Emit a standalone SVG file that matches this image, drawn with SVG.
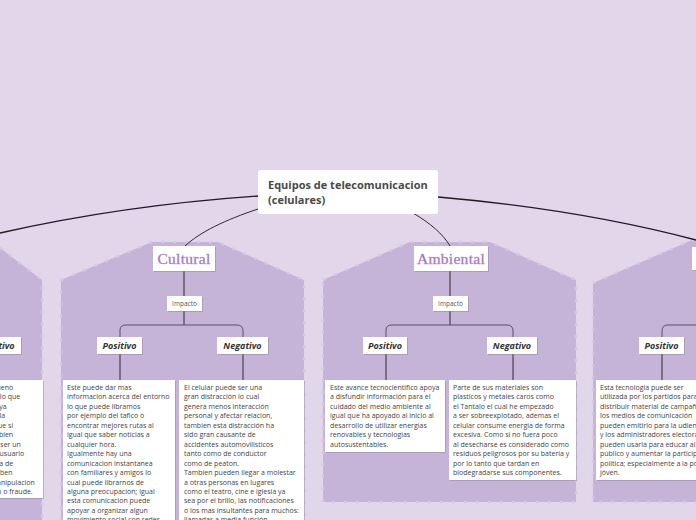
<svg xmlns="http://www.w3.org/2000/svg" width="696" height="520" viewBox="0 0 696 520">
<style>
.panel{fill:#c6b3d8;stroke:#d6c8e2;stroke-width:2.5;stroke-dasharray:3 9}
.box{fill:#fff}
.sh{fill:#8f7fa0;opacity:0.45}
.conn{fill:none;stroke:#2e2a33;stroke-width:1}
.main{fill:none;stroke:#1e1b22;stroke-width:1.3}
.br{fill:none;stroke:#5a5060;stroke-width:1}
.cat{font-family:"Liberation Serif",serif;font-size:15.5px;fill:#9c6cbc;stroke:#b995d0;stroke-width:0.4;text-anchor:middle;letter-spacing:0.3px}
.pn{font-family:"Open Sans","Noto Sans",sans-serif;font-weight:bold;font-style:italic;font-size:9px;fill:#333;text-anchor:middle}
.imp{font-family:"Open Sans","Noto Sans",sans-serif;font-size:6.5px;fill:#555;text-anchor:middle}
.body{font-family:"Open Sans","Noto Sans",sans-serif;font-size:7px;fill:#444}
.title{font-family:"Open Sans","Noto Sans",sans-serif;font-weight:bold;font-size:11px;fill:#4a4a4a}
</style>
<rect width="696" height="520" fill="#e1d6ea"/>

<g id="panels">
<polygon class="panel" points="-120,240 -40,240 0,248 42,280 42,540 -120,540"/>
<polygon class="panel" points="61,280 152,242 218,242 304,280 304,540 61,540"/>
<polygon class="panel" points="323,280 410,242 490,242 576,280 576,502 323,502"/>
<polygon class="panel" points="593,283 692,240 780,240 780,502 593,502"/>
</g>

<g id="connectors">
<path class="main" d="M258,196 C170,202 80,215 0,233"/>
<path class="main" d="M438,197 C530,205 620,220 696,240"/>
<path class="conn" d="M258,209 C225,220 200,232 185,246"/>
<path class="conn" d="M413,213 C430,223 443,234 450,246"/>
<path class="conn" d="M184,271 V296 M184,311 V325"/>
<path class="br" d="M120,337 V330 Q120,325 126,325 H237 Q243,325 243,331 V337"/>
<path class="conn" d="M120,354 V380 M243,354 V380"/>
<path class="conn" d="M450,271 V296 M450,311 V325"/>
<path class="br" d="M386,337 V330 Q386,325 392,325 H507 Q513,325 513,331 V337"/>
<path class="conn" d="M386,354 V380 M513,354 V380"/>
<path class="br" d="M662,337 V331 Q662,325 668,325 H700"/>
<path class="conn" d="M662,354 V380"/>
</g>

<g id="center">
<rect class="box" x="258" y="170" width="180" height="44" rx="3"/>
<text class="title" x="268" y="189">Equipos de telecomunicacion</text>
<text class="title" x="268" y="204">(celulares)</text>
</g>

<g id="cultural">
<rect class="sh" x="154" y="247" width="62" height="25"/>
<rect class="box" x="153" y="246" width="62" height="25"/>
<text class="cat" x="184" y="263.5">Cultural</text>
</g>
<g id="cultural-impacto">
<rect class="sh" x="168" y="297" width="35" height="15"/>
<rect class="box" x="167" y="296" width="35" height="15"/>
<text class="imp" x="184.5" y="306">Impacto</text>
</g>
<g id="cultural-positivo">
<rect class="sh" x="98" y="338" width="45" height="17"/>
<rect class="box" x="97" y="337" width="45" height="17"/>
<text class="pn" x="119.5" y="349">Positivo</text>
</g>
<g id="cultural-negativo">
<rect class="sh" x="218" y="338" width="51" height="17"/>
<rect class="box" x="217" y="337" width="51" height="17"/>
<text class="pn" x="242.5" y="349">Negativo</text>
</g>
<g id="cultural-pos-text">
<rect class="sh" x="64" y="381" width="112" height="150"/>
<rect class="box" x="63" y="380" width="112" height="150"/>
<text class="body">
<tspan x="67" y="390">Este puede dar mas</tspan>
<tspan x="67" y="399.45">informacion acerca del entorno</tspan>
<tspan x="67" y="408.9">lo que puede libramos</tspan>
<tspan x="67" y="418.35">por ejemplo del tafico o</tspan>
<tspan x="67" y="427.8">encontrar mejores rutas al</tspan>
<tspan x="67" y="437.25">igual que saber noticias a</tspan>
<tspan x="67" y="446.7">cualquier hora.</tspan>
<tspan x="67" y="456.15">Igualmente hay una</tspan>
<tspan x="67" y="465.6">comunicacion instantanea</tspan>
<tspan x="67" y="475.05">con familiares y amigos lo</tspan>
<tspan x="67" y="484.5">cual puede librarnos de</tspan>
<tspan x="67" y="493.95">alguna preocupacion; igual</tspan>
<tspan x="67" y="503.4">esta comunicacion puede</tspan>
<tspan x="67" y="512.85">apoyar a organizar algun</tspan>
<tspan x="67" y="522.3">movimiento social con redes</tspan>
</text>
</g>
<g id="cultural-neg-text">
<rect class="sh" x="180" y="381" width="125" height="150"/>
<rect class="box" x="179" y="380" width="125" height="150"/>
<text class="body">
<tspan x="184" y="390">El celular puede ser una</tspan>
<tspan x="184" y="399.45">gran distracción lo cual</tspan>
<tspan x="184" y="408.9">genera menos interacción</tspan>
<tspan x="184" y="418.35">personal y afectar relacion,</tspan>
<tspan x="184" y="427.8">tambien esta distracción ha</tspan>
<tspan x="184" y="437.25">sido gran causante de</tspan>
<tspan x="184" y="446.7">accidentes automovilisticos</tspan>
<tspan x="184" y="456.15">tanto como de conductor</tspan>
<tspan x="184" y="465.6">como de peaton.</tspan>
<tspan x="184" y="475.05">Tambien pueden llegar a molestar</tspan>
<tspan x="184" y="484.5">a otras personas en lugares</tspan>
<tspan x="184" y="493.95">como el teatro, cine e iglesia ya</tspan>
<tspan x="184" y="503.4">sea por el brillo, las notificaciones</tspan>
<tspan x="184" y="512.85">o los mas insultantes para muchos:</tspan>
<tspan x="184" y="522.3">llamadas a media función</tspan>
</text>
</g>

<g id="ambiental">
<rect class="sh" x="415" y="247" width="74" height="25"/>
<rect class="box" x="414" y="246" width="74" height="25"/>
<text class="cat" x="451" y="263.5">Ambiental</text>
</g>
<g id="ambiental-impacto">
<rect class="sh" x="434" y="297" width="35" height="15"/>
<rect class="box" x="433" y="296" width="35" height="15"/>
<text class="imp" x="450.5" y="306">Impacto</text>
</g>
<g id="ambiental-positivo">
<rect class="sh" x="364" y="338" width="44" height="17"/>
<rect class="box" x="363" y="337" width="44" height="17"/>
<text class="pn" x="385" y="349">Positivo</text>
</g>
<g id="ambiental-negativo">
<rect class="sh" x="488" y="338" width="50" height="17"/>
<rect class="box" x="487" y="337" width="50" height="17"/>
<text class="pn" x="512" y="349">Negativo</text>
</g>
<g id="ambiental-pos-text">
<rect class="sh" x="326" y="381" width="120" height="72"/>
<rect class="box" x="325" y="380" width="120" height="72"/>
<text class="body">
<tspan x="330" y="390">Este avance tecnocientifico apoya</tspan>
<tspan x="330" y="399.45">a disfundir información para el</tspan>
<tspan x="330" y="408.9">cuidado del medio ambiente al</tspan>
<tspan x="330" y="418.35">igual que ha apoyado al inicio al</tspan>
<tspan x="330" y="427.8">desarrollo de utilizar energias</tspan>
<tspan x="330" y="437.25">renovables y tecnologias</tspan>
<tspan x="330" y="446.7">autosustentables.</tspan>
</text>
</g>
<g id="ambiental-neg-text">
<rect class="sh" x="450" y="381" width="127" height="100"/>
<rect class="box" x="449" y="380" width="127" height="100"/>
<text class="body">
<tspan x="453" y="390">Parte de sus materiales son</tspan>
<tspan x="453" y="399.45">plasticos y metales caros como</tspan>
<tspan x="453" y="408.9">el Tantalo el cual he empezado</tspan>
<tspan x="453" y="418.35">a ser sobreexplotado, ademas el</tspan>
<tspan x="453" y="427.8">celular consume energia de forma</tspan>
<tspan x="453" y="437.25">excesiva. Como si no fuera poco</tspan>
<tspan x="453" y="446.7">al desecharse es considerado como</tspan>
<tspan x="453" y="456.15">residuos peligrosos por su bateria y</tspan>
<tspan x="453" y="465.6">por lo tanto que tardan en</tspan>
<tspan x="453" y="475.05">biodegradarse sus componentes.</tspan>
</text>
</g>

<g id="right-branch">
<rect class="sh" x="693" y="248" width="70" height="23"/>
<rect class="box" x="692" y="247" width="70" height="23"/>
</g>
<g id="right-positivo">
<rect class="sh" x="640" y="338" width="45" height="17"/>
<rect class="box" x="639" y="337" width="45" height="17"/>
<text class="pn" x="661.5" y="349">Positivo</text>
</g>
<g id="right-pos-text">
<rect class="sh" x="597" y="381" width="140" height="100"/>
<rect class="box" x="596" y="380" width="140" height="100"/>
<text class="body">
<tspan x="600" y="390">Esta tecnologia puede ser</tspan>
<tspan x="600" y="399.45">utilizada por los partidos para</tspan>
<tspan x="600" y="408.9">distribuir material de campaña</tspan>
<tspan x="600" y="418.35">los medios de comunicación</tspan>
<tspan x="600" y="427.8">pueden emitirlo para la udiencia</tspan>
<tspan x="600" y="437.25">y los administradores electorales</tspan>
<tspan x="600" y="446.7">pueden usarla para educar al</tspan>
<tspan x="600" y="456.15">público y aumentar la participación</tspan>
<tspan x="600" y="465.6">política; especialmente a la población</tspan>
<tspan x="600" y="475.05">jóven.</tspan>
</text>
</g>

<g id="left-negativo">
<rect class="sh" x="-29" y="338" width="51" height="17"/>
<rect class="box" x="-30" y="337" width="51" height="17"/>
<text class="pn" x="-4.5" y="349">Negativo</text>
</g>
<g id="left-text">
<rect class="sh" x="-79" y="381" width="123" height="118"/>
<rect class="box" x="-80" y="380" width="123" height="118"/>
<text class="body" text-anchor="end">
<tspan x="15" y="390">ueno</tspan>
<tspan x="22" y="399.45">lo que</tspan>
<tspan x="8.5" y="408.9">aya</tspan>
<tspan x="7" y="418.35">a la</tspan>
<tspan x="15" y="427.8">ue si</tspan>
<tspan x="15" y="437.25">mbien</tspan>
<tspan x="22.7" y="446.7">ser un</tspan>
<tspan x="26" y="456.15">usuario</tspan>
<tspan x="15" y="465.6">ia de</tspan>
<tspan x="14.3" y="475.05">saben</tspan>
<tspan x="36.7" y="484.5">anipulacion</tspan>
<tspan x="32.7" y="493.95">n o fraude.</tspan>
</text>
</g>
</svg>
